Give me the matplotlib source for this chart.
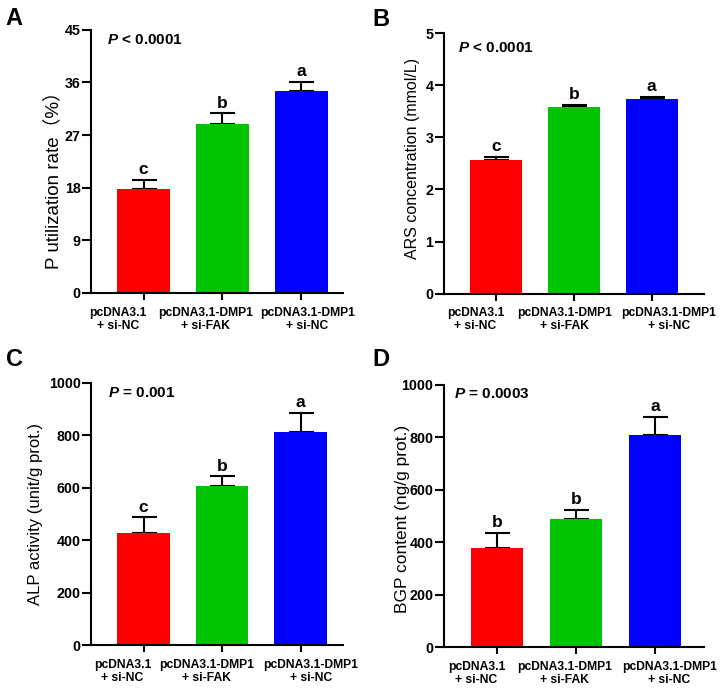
import numpy as np
import matplotlib
matplotlib.use("Agg")
import matplotlib.pyplot as plt

plt.rcParams['font.family'] = ['Liberation Sans', 'Noto Sans CJK SC', 'DejaVu Sans']
plt.rcParams['mathtext.fontset'] = 'custom'
plt.rcParams['mathtext.bfit'] = 'Liberation Sans:italic:bold'
plt.rcParams['mathtext.rm'] = 'Liberation Sans'

groups = ['pcDNA3.1\n+ si-NC', 'pcDNA3.1-DMP1\n+ si-FAK', 'pcDNA3.1-DMP1\n+ si-NC']
colors = ['#FF0000', '#00C400', '#0000FF']

p_util = [17.8, 28.9, 34.5]
p_util_err = [1.5, 1.8, 1.55]
p_util_sig = ['c', 'b', 'a']

ars = [2.56, 3.59, 3.74]
ars_err = [0.07, 0.04, 0.04]
ars_sig = ['c', 'b', 'a']

alp = [426, 605, 812]
alp_err = [61, 38, 73]
alp_sig = ['c', 'b', 'a']

bgp = [377, 488, 807]
bgp_err = [59, 35, 71]
bgp_sig = ['b', 'b', 'a']

panels = [
    dict(letter='A', vals=p_util, errs=p_util_err, sig=p_util_sig,
         ylabel='P utilization rate\uff08%\uff09', ylsize=13.5, ymax=45, yticks=[0, 9, 18, 27, 36, 45],
         ptxt='< 0.0001', rect=[0.126, 0.578, 0.349, 0.379], xlim=(-0.665, 2.525),
         ppos=(0.063, 0.962), ylpos=(-0.151, 0.445), lpos=(0.019, 0.973),
         xlab_off=[-0.32, -0.215, 0.076]),
    dict(letter='B', vals=ars, errs=ars_err, sig=ars_sig,
         ylabel='ARS concentration (mmol/L)', ylsize=11.5, ymax=5, yticks=[0, 1, 2, 3, 4, 5],
         ptxt='< 0.0001', rect=[0.6145, 0.577, 0.3605, 0.375], xlim=(-0.67, 2.67),
         ppos=(0.055, 0.943), ylpos=(-0.118, 0.52), lpos=(0.527, 0.972),
         xlab_off=[-0.26, -0.12, 0.22]),
    dict(letter='C', vals=alp, errs=alp_err, sig=alp_sig,
         ylabel='ALP activity (unit/g prot.)', ylsize=12, ymax=1000, yticks=[0, 200, 400, 600, 800, 1000],
         ptxt='= 0.001', rect=[0.126, 0.0702, 0.349, 0.3784], xlim=(-0.67, 2.54),
         ppos=(0.067, 0.961), ylpos=(-0.222, 0.5), lpos=(0.020, 0.482),
         xlab_off=[-0.27, -0.2, 0.13]),
    dict(letter='D', vals=bgp, errs=bgp_err, sig=bgp_sig,
         ylabel='BGP content (ng/g prot.)', ylsize=12.5, ymax=1000, yticks=[0, 200, 400, 600, 800, 1000],
         ptxt='= 0.0003', rect=[0.6145, 0.0677, 0.3605, 0.378], xlim=(-0.675, 2.62),
         ppos=(0.04, 0.966), ylpos=(-0.16, 0.49), lpos=(0.527, 0.482),
         xlab_off=[-0.26, -0.14, 0.18]),
]

fig = plt.figure(figsize=(7.22, 6.94), dpi=100)

for p in panels:
    ax = fig.add_axes(p['rect'])
    x = np.arange(len(groups))
    vals, errs, ymax = p['vals'], p['errs'], p['ymax']
    ax.errorbar(x, vals, yerr=[np.zeros(len(errs)), errs], fmt='none',
                ecolor='black', elinewidth=1.5, capsize=9, capthick=1.5, zorder=1)
    ax.bar(x, vals, width=0.67, color=colors, zorder=2)
    for xi, v, e, s in zip(x, vals, errs, p['sig']):
        ax.annotate(s, xy=(xi, v + e), xytext=(0, 2), textcoords='offset points',
                    ha='center', va='bottom', fontsize=12.5, fontweight='bold')
    ax.set_xlim(*p['xlim'])
    ax.set_ylim(0, ymax)
    ax.set_yticks(p['yticks'])
    ax.set_xticks(x)
    ax.set_xticklabels([])
    for xi, g, off in zip(x, groups, p['xlab_off']):
        ax.annotate(g, xy=(xi + off, 0), xycoords=('data', 'axes fraction'),
                    xytext=(0, -10), textcoords='offset points', ha='center', va='top',
                    fontsize=8.7, fontweight='bold', linespacing=1.1,
                    annotation_clip=False)
    for lbl in ax.get_yticklabels():
        lbl.set_fontweight('bold')
        lbl.set_fontsize(10.3)
    ax.set_ylabel(p['ylabel'], fontsize=p['ylsize'])
    ax.yaxis.label.set_verticalalignment('center')
    ax.yaxis.set_label_coords(*p['ylpos'])
    ax.spines['top'].set_visible(False)
    ax.spines['right'].set_visible(False)
    for sp in ['left', 'bottom']:
        ax.spines[sp].set_linewidth(1.5)
    ax.tick_params(axis='y', direction='out', width=1.5, length=6.5, pad=1)
    ax.tick_params(axis='x', direction='out', width=1.5, length=5, pad=1)
    ax.text(p['ppos'][0], p['ppos'][1], r'$\bfit{P}$ ' + p['ptxt'], transform=ax.transAxes,
            ha='left', va='center', fontsize=11, fontweight='bold')
    fig.text(p['lpos'][0], p['lpos'][1], p['letter'], fontsize=17, fontweight='bold',
             ha='center', va='center')

fig.savefig('out.png', dpi=100)
